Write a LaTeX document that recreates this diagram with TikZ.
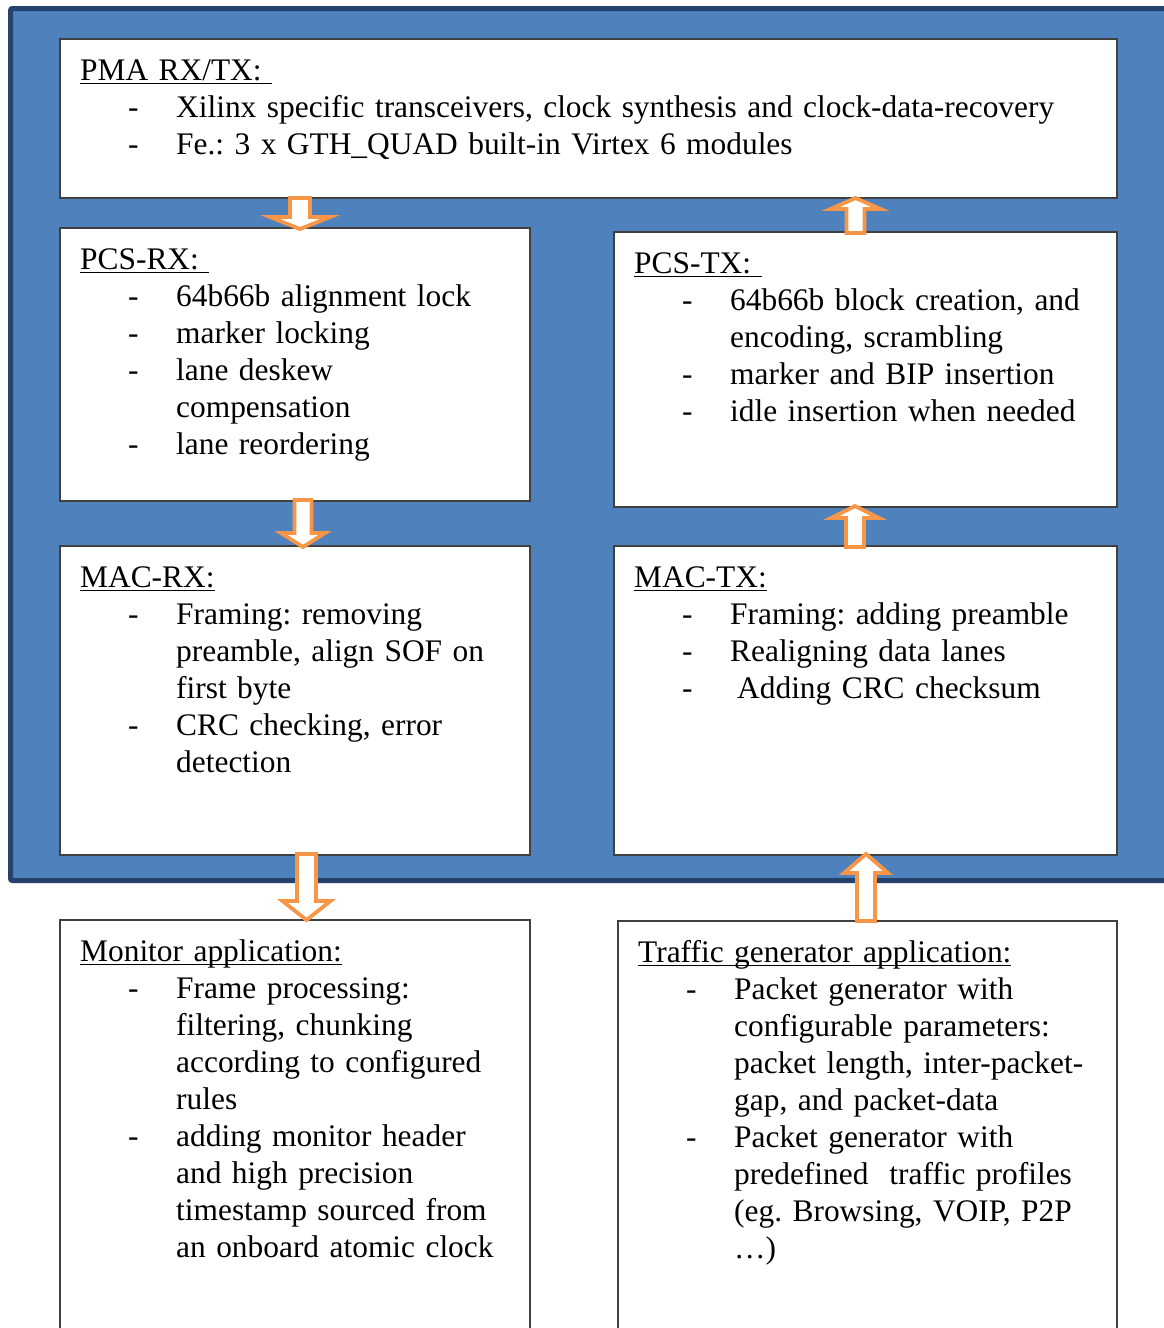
\documentclass[tikz,border=0pt]{standalone}
\usepackage{fontspec}
\setmainfont{Liberation Serif}
\usetikzlibrary{calc}
\definecolor{frame}{HTML}{4F81BD}
\definecolor{framedark}{HTML}{24426B}
\definecolor{arrorange}{HTML}{F79646}
\newcommand{\hd}[1]{\setbox0\hbox{#1}\rlap{\rule[-4pt]{\wd0}{1.6pt}}\box0}
\newcommand{\itm}{\par\hangindent=96pt\hangafter=0\noindent\llap{\makebox[48pt][l]{-}}}

\begin{document}
\begin{tikzpicture}[x=1pt, y=-1pt,
      box/.style={draw=black!75, line width=1.4pt, fill=white, inner sep=0pt, outer sep=0pt, anchor=north west},
      txt/.style={anchor=north west, inner sep=0pt, text width=1080pt,
                  font=\fontsize{31.4}{37}\selectfont\frenchspacing},
      headl/.store in=\headl, headw/.store in=\headw, shaftw/.store in=\shaftw,
      headl=12pt, headw=26pt, shaftw=9pt,
      barr/.style={draw=arrorange, line width=3.8pt, fill=white, line join=miter,
                   to path={let \p1=(\tikztostart), \p2=(\tikztotarget), \n1={sign(\y2-\y1)}, \n2={\y2-\n1*\headl} in
                     ({\x1-\shaftw},\y1) -- ({\x1-\shaftw},\n2) -- ({\x1-\headw},\n2)
                     -- (\x1,\y2) -- ({\x1+\headw},\n2) -- ({\x1+\shaftw},\n2)
                     -- ({\x1+\shaftw},\y1) -- cycle}}]
    \useasboundingbox (0,0) rectangle (1164,1328);
    \clip (0,0) rectangle (1164,1328);
    \fill[white] (0,0) rectangle (1164,1328);
    \draw[framedark, fill=frame, line width=5pt, rounded corners=2pt] (10.5,8.5) rectangle (1180,880.5);

    \node[box, minimum width=1057pt, minimum height=159pt] (pma) at (60,39) {};
    \node[box, minimum width=470pt, minimum height=273pt] (pcsrx) at (60,228) {};
    \node[box, minimum width=503pt, minimum height=275pt] (pcstx) at (614,232) {};
    \node[box, minimum width=470pt, minimum height=309pt] (macrx) at (60,546) {};
    \node[box, minimum width=503pt, minimum height=309pt] (mactx) at (614,546) {};
    \node[box, minimum width=470pt, minimum height=430pt] (mon) at (60,920) {};
    \node[box, minimum width=499pt, minimum height=430pt] (gen) at (618,921) {};

    \node[txt] (pmatxt) at ([shift={(20pt,-15pt)}]pma.north west) {\strut\hd{PMA\ RX/TX:\ }
      \itm Xilinx specific transceivers, clock synthesis and clock-data-recovery
      \itm Fe.: 3 x GTH\_QUAD built-in Virtex 6 modules\par};
    \node[txt] (pcsrxtxt) at ([shift={(20pt,-15pt)}]pcsrx.north west) {\strut\hd{PCS-RX:\ }
      \itm 64b66b alignment lock
      \itm marker locking
      \itm lane deskew\newline compensation
      \itm lane reordering\par};
    \node[txt] (pcstxtxt) at ([shift={(20pt,-15pt)}]pcstx.north west) {\strut\hd{PCS-TX:\ }
      \itm 64b66b block creation, and\newline encoding, scrambling
      \itm marker and BIP insertion
      \itm idle insertion when needed\par};
    \node[txt] (macrxtxt) at ([shift={(20pt,-15pt)}]macrx.north west) {\strut\hd{MAC-RX:}
      \itm Framing: removing\newline preamble, align SOF on\newline first byte
      \itm CRC checking, error\newline detection\par};
    \node[txt] (mactxtxt) at ([shift={(20pt,-15pt)}]mactx.north west) {\strut\hd{MAC-TX:}
      \itm Framing: adding preamble
      \itm Realigning data lanes
      \itm \hspace*{7pt}Adding CRC checksum\par};
    \node[txt] (montxt) at ([shift={(20pt,-15pt)}]mon.north west) {\strut\hd{Monitor application:}
      \itm Frame processing:\newline filtering, chunking\newline according to configured\newline rules
      \itm adding monitor header\newline and high precision\newline timestamp sourced from\newline an onboard atomic clock\par};
    \node[txt] (gentxt) at ([shift={(20pt,-15pt)}]gen.north west) {\strut\hd{Traffic generator application:}
      \itm Packet generator with\newline configurable parameters:\newline packet length, inter-packet-\newline gap, and packet-data
      \itm Packet generator with\newline predefined\ \ traffic profiles\newline (eg. Browsing, VOIP, P2P\newline …)\par};

    \draw[barr, headl=12pt, headw=30pt, shaftw=10pt] ([xshift=240pt]pma.south west) to ([xshift=240pt,yshift=-1pt]pcsrx.north west);
    \draw[barr, headl=11pt, headw=25pt, shaftw=9pt] ([xshift=241.5pt,yshift=-1pt]pcstx.north west) to ([xshift=795.5pt]pma.south west);
    \draw[barr, headl=14pt, headw=22pt, shaftw=8.5pt] ([xshift=243pt,yshift=1pt]pcsrx.south west) to ([xshift=243pt,yshift=-1pt]macrx.north west);
    \draw[barr, headl=12pt, headw=24pt, shaftw=9pt] ([xshift=241pt,yshift=-1pt]mactx.north west) to ([xshift=241pt,yshift=1pt]pcstx.south west);
    \draw[barr, headl=19pt, headw=24pt, shaftw=9.5pt] ([xshift=246.5pt,yshift=1pt]macrx.south west) to ([xshift=246.5pt]mon.north west);
    \draw[barr, headl=19pt, headw=22pt, shaftw=9pt] ([xshift=248pt]gen.north west) to ([xshift=252pt,yshift=1pt]mactx.south west);
  \end{tikzpicture}
\end{document}
